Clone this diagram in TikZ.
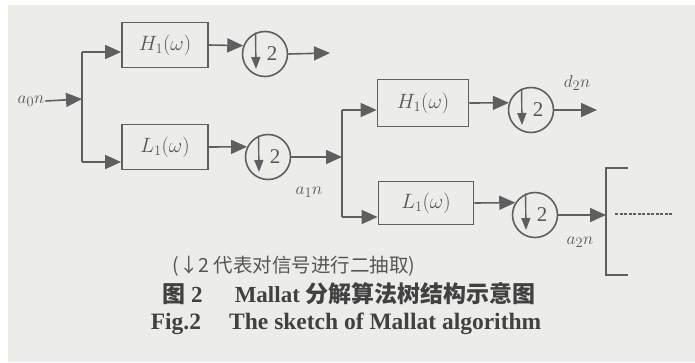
\documentclass[tikz,border=0pt]{standalone}
\usepackage{fontspec}
\setmainfont{Liberation Serif}
\newfontfamily\cjk{Noto Sans CJK SC}
\usetikzlibrary{arrows.meta}
\definecolor{bgc}{RGB}{236,236,233}
\definecolor{lc}{RGB}{95,95,95}
\definecolor{tc}{RGB}{85,85,85}
\definecolor{capc}{RGB}{65,65,65}
\begin{document}
\begin{tikzpicture}[x=1pt,y=-1pt,
  ln/.style={draw=lc, line width=1.6pt},
  arr/.style={ln, -{Triangle[length=16pt,width=14pt]}},
  dn/.style={draw=lc, line width=1.4pt, -{Triangle[length=12pt,width=9pt]}},
  filt/.style={draw=lc, line width=1.8pt, minimum height=45pt, inner sep=0pt, text=tc, font=\fontsize{21}{24}\selectfont},
  dsmp/.style={circle, draw=lc, line width=1.6pt, minimum size=45pt, inner sep=0pt},
  two/.style={text=tc, inner sep=0pt, font=\fontsize{21}{23}\selectfont},
  lab/.style={text=tc, inner sep=0pt, font=\fontsize{19}{21}\selectfont}]
\useasboundingbox (0,0) rectangle (695,362);
\fill[bgc] (8,5) rectangle (695,362);
% filters
\node[filt, minimum width=86pt] (h1) at (165,45) {$H_1(\omega)$};
\node[filt, minimum width=86pt] (l1) at (165,147) {$L_1(\omega)$};
\node[filt, minimum width=91pt, minimum height=47pt] (h2) at (423,103) {$H_1(\omega)$};
\node[filt, minimum width=95pt, minimum height=43pt] (l2) at (426,203) {$L_1(\omega)$};
% downsamplers
\foreach \n/\x/\y in {c1/265/54, c2/268/157, c3/531/110, c4/535/215} {
  \node[dsmp] (\n) at (\x,\y) {};
  \node[two] (\n t) at ([xshift=7pt]\n.center) {2};
  \draw[dn] (\n.114) -- ([xshift=-9pt,yshift=-15pt]\n.center);
}
% labels
\node[lab] (a0) at (31,101) {$a_0n$};
\node[lab] (a1) at (309,192) {$a_1n$};
\node[lab] (d2) at (577,83) {$d_2n$};
\node[lab] (a2) at (580,242) {$a_2n$};
% coordinates
\coordinate (s1) at (82,99);
\coordinate (s1t) at (82,52);
\coordinate (s1b) at (82,162);
\coordinate (o1) at (330,53);
\coordinate (s2) at (342,157);
\coordinate (s2t) at (342,110);
\coordinate (s2b) at (342,217);
\coordinate (o3) at (597,110);
\coordinate (s3) at (606,215);
\coordinate (s3t) at (606,168);
\coordinate (s3b) at (606,275);
% stage 1
\draw[arr] (a0.east) ++(1,0) coordinate (a0e) -- (s1);
\draw[ln] (s1t) -- (s1b);
\draw[arr] (s1t) -- (s1t -| h1.west);
\draw[arr] (s1b) -- (s1b -| l1.west);
\draw[arr] (h1.east) -- (c1.159);
\draw[arr] (l1.east) -- (c2.154);
\draw[arr] (c1.east) -- (o1);
\draw[arr] (c2.east) -- (s2);
% stage 2
\draw[ln] (s2t) -- (s2b);
\draw[arr] (s2t) -- (s2t -| h2.west);
\draw[arr] (s2b) -- (s2b -| l2.west);
\draw[arr] (h2.east) -- (c3.162);
\draw[arr] (l2.east) -- (c4.148);
\draw[arr] (c3.east) -- (o3);
\draw[arr] (c4.east) -- (s3);
% bracket
\draw[ln] ([xshift=22pt]s3t) -- (s3t) -- (s3b) -- ([xshift=22pt]s3b);
\coordinate (dd1) at (615,214);
\coordinate (dd2) at (672,214);
\draw[draw=lc, line width=1.3pt, dash pattern=on 3pt off 1.5pt] (dd1) -- (dd2);
% captions
\node[text=tc, inner sep=0pt, font=\cjk\fontsize{19.5}{22}\selectfont] (note) at (294,266) {(↓2 代表对信号进行二抽取)};
\node[text=capc, inner sep=0pt, font=\fontsize{23}{26}\selectfont\bfseries] (cap1) at (349,294) {{\cjk 图} 2\hspace{1.4em}Mallat {\cjk 分解算法树结构示意图}};
\node[text=capc, inner sep=0pt, font=\fontsize{23.5}{26}\selectfont\bfseries] (cap2) at (346,324) {Fig.2\hspace{1.2em}The sketch of Mallat algorithm};
\end{tikzpicture}
\end{document}
